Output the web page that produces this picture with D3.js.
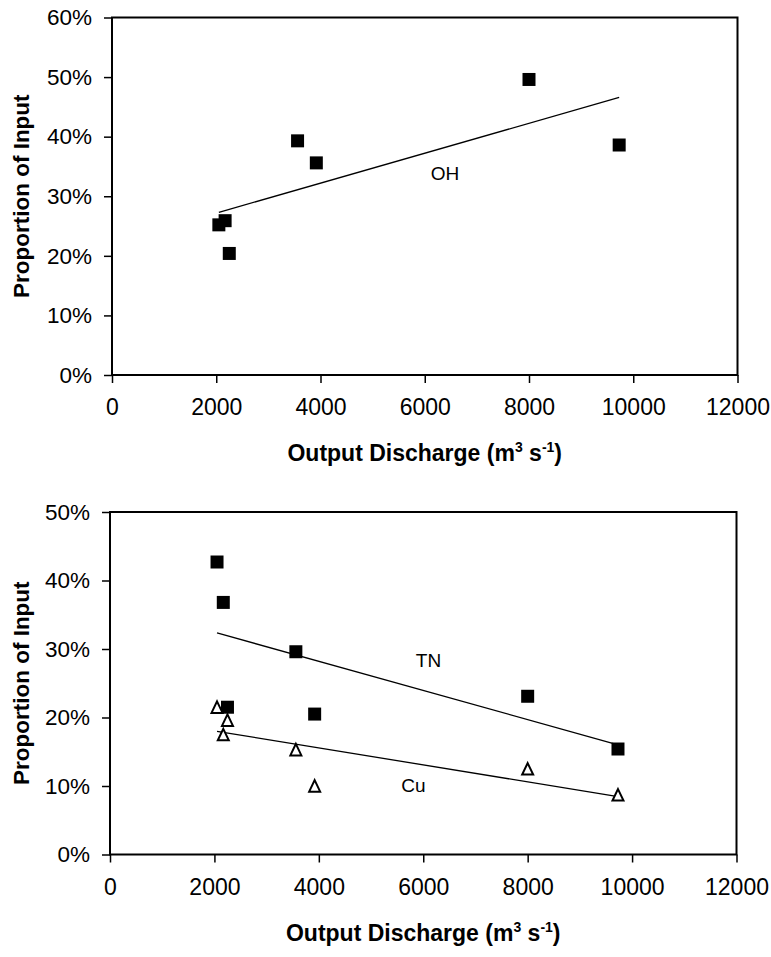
<!DOCTYPE html>
<html>
<head>
<meta charset="utf-8">
<script src="https://cdn.jsdelivr.net/npm/d3@7"></script>
<style>
  body { margin: 0; background: #fff; }
  svg { display: block; font-family: "Liberation Sans", Arial, sans-serif; }
</style>
</head>
<body>
<div id="chart"></div>
<script>
// Daten
var discharge = [2050, 2170, 2250, 3560, 3920, 8000, 9730];
var ohValues = [0.252, 0.259, 0.204, 0.393, 0.356, 0.496, 0.386];
var tnValues = [0.427, 0.368, 0.215, 0.296, 0.205, 0.231, 0.154];
var cuValues = [0.214, 0.174, 0.195, 0.152, 0.099, 0.124, 0.086];

var xTicks = [0, 2000, 4000, 6000, 8000, 10000, 12000];
var yTicksTop = [0, 0.1, 0.2, 0.3, 0.4, 0.5, 0.6];
var yTicksBottom = [0, 0.1, 0.2, 0.3, 0.4, 0.5];

var svg = d3.select("#chart").append("svg")
        .attr("width", 771)
        .attr("height", 957);

// lineare Regression wie in Excel (Trendlinie)
function trend(xs, ys) {
    var mx = d3.mean(xs), my = d3.mean(ys);
    var sxy = d3.sum(xs, function (x, i) { return (x - mx) * (ys[i] - my); });
    var sxx = d3.sum(xs, function (x) { return (x - mx) * (x - mx); });
    var b = sxy / sxx;
    var ext = d3.extent(xs);
    return ext.map(function (x) { return [x, my + b * (x - mx)]; });
}

function drawPanel(box, yMax, yTicks, series) {
    var g = svg.append("g");
    var x = d3.scaleLinear().domain([0, 12000]).range([box.left, box.right]);
    var y = d3.scaleLinear().domain([0, yMax]).range([box.bottom, box.top]);

    // Achsen
    var xAxis = g.append("g")
            .attr("transform", "translate(0," + box.bottom + ")")
            .call(d3.axisBottom(x).tickValues(xTicks).tickFormat(d3.format("d"))
                    .tickSize(8).tickPadding(16));
    var yAxis = g.append("g")
            .attr("transform", "translate(" + box.left + ",0)")
            .call(d3.axisLeft(y).tickValues(yTicks).tickFormat(d3.format(".0%"))
                    .tickSize(8).tickPadding(12));
    [xAxis, yAxis].forEach(function (a) {
        a.select(".domain").remove();
        a.selectAll("line").attr("stroke", "#000").attr("stroke-width", 1.5);
        a.selectAll("text").attr("fill", "#000")
                .style("font-family", "'Liberation Sans', Arial, sans-serif");
    });
    xAxis.selectAll("text").style("font-size", "23px");
    yAxis.selectAll("text").style("font-size", "22.5px");

    // Rahmen
    g.append("rect")
            .attr("x", box.left).attr("y", box.top)
            .attr("width", box.right - box.left)
            .attr("height", box.bottom - box.top)
            .attr("fill", "none").attr("stroke", "#000").attr("stroke-width", 2);

    // Trendlinien
    var line = d3.line()
            .x(function (d) { return x(d[0]); })
            .y(function (d) { return y(d[1]); });
    series.forEach(function (s) {
        g.append("path")
                .datum(trend(discharge, s.values))
                .attr("d", line)
                .attr("fill", "none").attr("stroke", "#000").attr("stroke-width", 1.3);
    });

    // Punkte
    series.forEach(function (s) {
        var pts = g.append("g").selectAll("path")
                .data(s.values)
                .enter().append("path")
                .attr("transform", function (d, i) {
                    return "translate(" + x(discharge[i]) + "," + y(d) + ")";
                });
        if (s.shape === "square") {
            pts.attr("d", "M-6.5,-6.5H6.5V6.5H-6.5Z").attr("fill", "#000");
        } else {
            pts.attr("d", "M0,-6.5L5.5,5L-5.5,5Z")
                    .attr("fill", "#fff").attr("stroke", "#000").attr("stroke-width", 2);
        }
        g.append("text")
                .attr("x", x(s.label[0])).attr("y", y(s.label[1]))
                .attr("text-anchor", "middle")
                .style("font-size", "19px")
                .text(s.name);
    });

    // Achsentitel
    var xt = g.append("text")
            .attr("x", (box.left + box.right) / 2)
            .attr("y", box.bottom + 86)
            .attr("text-anchor", "middle")
            .style("font-size", "23px").style("font-weight", "bold");
    xt.append("tspan").text("Output Discharge (m");
    xt.append("tspan").attr("dy", -9).style("font-size", "14px").text("3");
    xt.append("tspan").attr("dy", 9).text(" s");
    xt.append("tspan").attr("dy", -9).style("font-size", "14px").text("-1");
    xt.append("tspan").attr("dy", 9).text(")");

    g.append("text")
            .attr("transform", "translate(29," + ((box.top + box.bottom) / 2) + ") rotate(-90)")
            .attr("text-anchor", "middle")
            .style("font-size", "22.5px").style("font-weight", "bold")
            .text("Proportion of Input");
}

drawPanel({left: 112, right: 737.5, top: 17.5, bottom: 375}, 0.6, yTicksTop, [
    {name: "OH", values: ohValues, shape: "square", label: [6390, 0.327]}
]);

drawPanel({left: 110, right: 736.5, top: 512, bottom: 854.5}, 0.5, yTicksBottom, [
    {name: "TN", values: tnValues, shape: "square", label: [6100, 0.273]},
    {name: "Cu", values: cuValues, shape: "triangle", label: [5810, 0.091]}
]);
</script>
</body>
</html>
